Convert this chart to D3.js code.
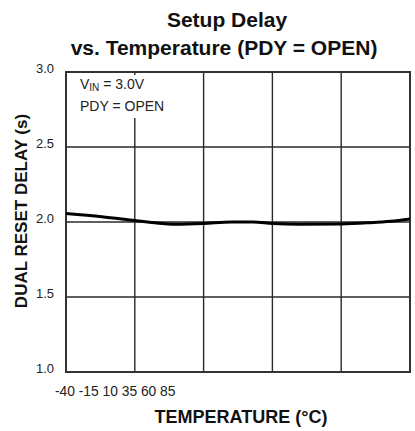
<!DOCTYPE html>
<html>
<head>
<meta charset="utf-8">
<script src="https://cdn.jsdelivr.net/npm/d3@7"></script>
<style>
  body { margin: 0; background: #fff; }
  text { font-family: "Liberation Sans", Arial, sans-serif; }
</style>
</head>
<body>
<script>
// curve
var temps  = [-40, -27, -15, -5, 0, 10, 20, 28, 35, 45, 60, 70, 78, 85];
var delays = [2.056, 2.035, 2.01, 1.99, 1.985, 1.99, 2.0, 2.0, 1.99, 1.985, 1.987, 1.995, 2.005, 2.02];

var xTicks = [-40, -15, 10, 35, 60, 85];
var yTicks = [1.0, 1.5, 2.0, 2.5, 3.0];

var margin = {top: 72, right: 5, bottom: 59, left: 66},
    width = 415 - margin.left - margin.right,
    height = 431 - margin.top - margin.bottom;

var xScale = d3.scaleLinear().domain([-40, 85]).range([0, width]);
var yScale = d3.scaleLinear().domain([1, 3]).range([height, 0]);

var root = d3.select("body").append("svg")
    .attr("width", 415)
    .attr("height", 431);

var svg = root.append("g")
    .attr("transform", "translate(" + margin.left + "," + margin.top + ")");

// title
root.append("text")
    .attr("x", 227).attr("y", 27)
    .attr("text-anchor", "middle")
    .style("font-size", "21px").style("font-weight", "bold")
    .attr("fill", "#111")
    .text("Setup Delay");
root.append("text")
    .attr("x", 224).attr("y", 55)
    .attr("text-anchor", "middle")
    .style("font-size", "21px").style("font-weight", "bold")
    .attr("fill", "#111")
    .text("vs. Temperature (PDY = OPEN)");

// grid
svg.selectAll(".vgrid")
    .data(xTicks)
    .enter().append("line")
    .attr("class", "vgrid")
    .attr("x1", xScale).attr("x2", xScale)
    .attr("y1", 0).attr("y2", height)
    .attr("stroke", "#2a2a2a").attr("stroke-width", 1.4);

svg.selectAll(".hgrid")
    .data(yTicks)
    .enter().append("line")
    .attr("class", "hgrid")
    .attr("x1", 0).attr("x2", width)
    .attr("y1", yScale).attr("y2", yScale)
    .attr("stroke", "#2a2a2a").attr("stroke-width", 1.4);

// frame
svg.append("rect")
    .attr("width", width).attr("height", height)
    .attr("fill", "none")
    .attr("stroke", "#333").attr("stroke-width", 2);

// white box behind annotation
svg.append("rect")
    .attr("x", 2).attr("y", 3)
    .attr("width", 104).attr("height", 43)
    .attr("fill", "#fff");

var note = svg.append("text")
    .attr("x", 14).attr("y", 17)
    .style("font-size", "14px")
    .attr("fill", "#222");
note.append("tspan").text("V");
note.append("tspan").attr("dy", 2).style("font-size", "10px").text("IN");
note.append("tspan").attr("dy", -2).text(" = 3.0V");

svg.append("text")
    .attr("x", 14).attr("y", 39)
    .style("font-size", "14px")
    .attr("fill", "#222")
    .text("PDY = OPEN");

// the curve
var line = d3.line()
    .x(function(d, i) { return xScale(temps[i]); })
    .y(function(d) { return yScale(d); })
    .curve(d3.curveMonotoneX);

svg.append("path")
    .datum(delays)
    .attr("d", line)
    .attr("fill", "none")
    .attr("stroke", "#000")
    .attr("stroke-width", 3);

// y tick labels
svg.selectAll(".ylab")
    .data(yTicks)
    .enter().append("text")
    .attr("class", "ylab")
    .attr("x", -12)
    .attr("y", yScale)
    .attr("dy", "0.1em")
    .attr("text-anchor", "end")
    .style("font-size", "13px")
    .attr("fill", "#222")
    .text(function(d) { return d3.format(".1f")(d); });

// x tick labels are all bunched up at the left in the original
svg.append("text")
    .attr("x", -11)
    .attr("y", height + 24)
    .style("font-size", "13.8px")
    .attr("fill", "#222")
    .text(xTicks.join(" "));

// axis titles
svg.append("text")
    .attr("x", 175)
    .attr("y", height + 51)
    .attr("text-anchor", "middle")
    .style("font-size", "18px").style("font-weight", "bold")
    .attr("fill", "#111")
    .text("TEMPERATURE (°C)");

root.append("text")
    .attr("transform", "translate(27,211) rotate(-90)")
    .attr("text-anchor", "middle")
    .style("font-size", "17px").style("font-weight", "bold")
    .attr("fill", "#111")
    .text("DUAL RESET DELAY (s)");
</script>
</body>
</html>
